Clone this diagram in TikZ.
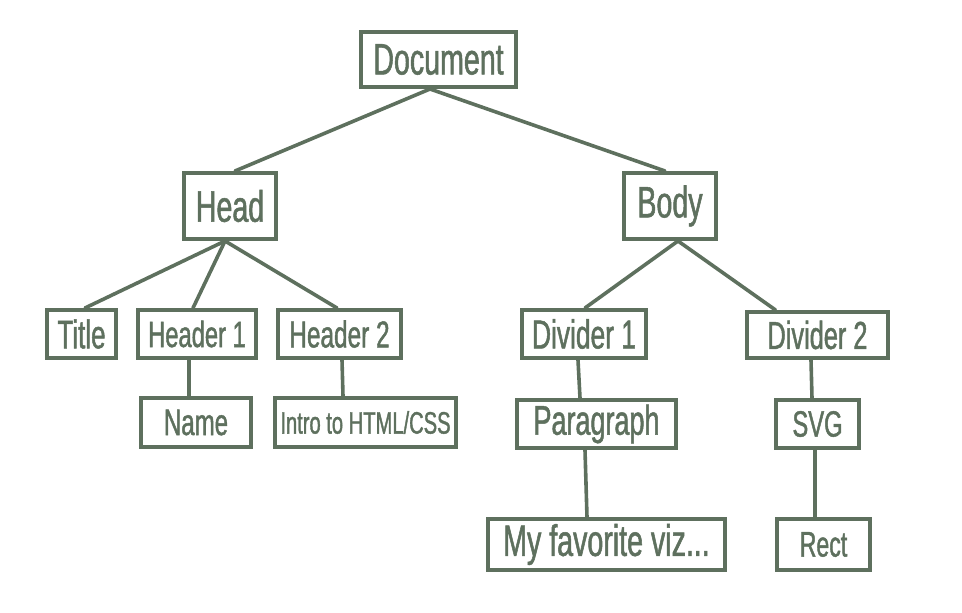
\documentclass[tikz,border=0pt]{standalone}
\usepackage{fontspec}
\setmainfont{Liberation Sans}[FakeStretch=0.65, FakeBold=1.2]
\definecolor{sage}{RGB}{94,112,94}
\newcommand{\fsz}[1]{\fontsize{#1}{#1}\selectfont}
\tikzset{
  box/.style={draw=sage, line width=3.6pt, text=sage, inner sep=0pt, font=\fsz{38}},
  big/.style={font=\fsz{44}},
  link/.style={draw=sage, line width=3.6pt, line cap=round}
}
\newcommand{\treebox}[6][]{%
  % #2 name, #3 left, #4 top, #5 right, #6 bottom (outer edges)
  \node[box,#1, minimum width={#5-#3-3.6}, minimum height={#6-#4-3.6}]
    (#2) at ({(#3+#5)/2},{(#4+#6)/2})}
\begin{document}
\begin{tikzpicture}[x=1pt,y=-1pt]
  \useasboundingbox (0,0) rectangle (962,613);
  % levels of the tree
  \treebox[big]{doc}{359}{30}{518}{89}{Document};
  \treebox[big]{head}{182}{171}{278}{241}{Head};
  \treebox[big]{body}{622}{171}{718}{241}{Body};
  \treebox[font=\fsz{40}]{title}{45}{308}{118}{360}{Title};
  \treebox[font=\fsz{36.5}]{hone}{136}{308}{258}{360}{Header 1};
  \treebox[font=\fsz{37.5}]{htwo}{276}{308}{403}{360}{Header 2};
  \treebox[font=\fsz{37}]{name}{139}{396}{253}{449}{Name};
  \treebox[font=\fsz{31}]{intro}{273}{396}{458}{449}{Intro to HTML/CSS};
  \treebox[font=\fsz{40.5}]{done}{520}{308}{648}{360}{Divider 1};
  \treebox[font=\fsz{39}]{dtwo}{745}{310}{890}{360}{Divider 2};
  \treebox[font=\fsz{41.5}]{para}{515}{398}{678}{450}{Paragraph};
  \treebox[font=\fsz{36.5}]{svg}{774}{398}{861}{450}{SVG};
  \treebox[font=\fsz{44}]{viz}{486}{517}{727}{572}{My favorite viz...};
  \treebox[font=\fsz{35.5}]{rect}{775}{517}{872}{572}{Rect};
  % connectors
  \draw[link] ([xshift=-8.5pt]doc.south) -- ([xshift=5pt]head.north);
  \draw[link] ([xshift=-8.5pt]doc.south) -- ([xshift=-5pt]body.north);
  \draw[link] ([xshift=-5pt]head.south) -- ([xshift=3.5pt]title.north);
  \draw[link] ([xshift=-5pt]head.south) -- ([xshift=-4pt]hone.north);
  \draw[link] ([xshift=-5pt]head.south) -- ([xshift=-2.5pt]htwo.north);
  \draw[link] ([xshift=8pt]body.south) -- ([xshift=1pt]done.north);
  \draw[link] ([xshift=8pt]body.south) -- ([xshift=-42pt]dtwo.north);
  \draw[link] ([xshift=-8pt]hone.south) -- ([xshift=-7pt]name.north);
  \draw[link] ([xshift=2.5pt]htwo.south) -- ([xshift=-22.5pt]intro.north);
  \draw[link] ([xshift=-6pt]done.south) -- ([xshift=-16.5pt]para.north);
  \draw[link] ([xshift=-11.5pt]para.south) -- ([xshift=-19.5pt]viz.north);
  \draw[link] ([xshift=-6.5pt]dtwo.south) -- ([xshift=-5.5pt]svg.north);
  \draw[link] ([xshift=-2.5pt]svg.south) -- ([xshift=-8.5pt]rect.north);
\end{tikzpicture}
\end{document}
